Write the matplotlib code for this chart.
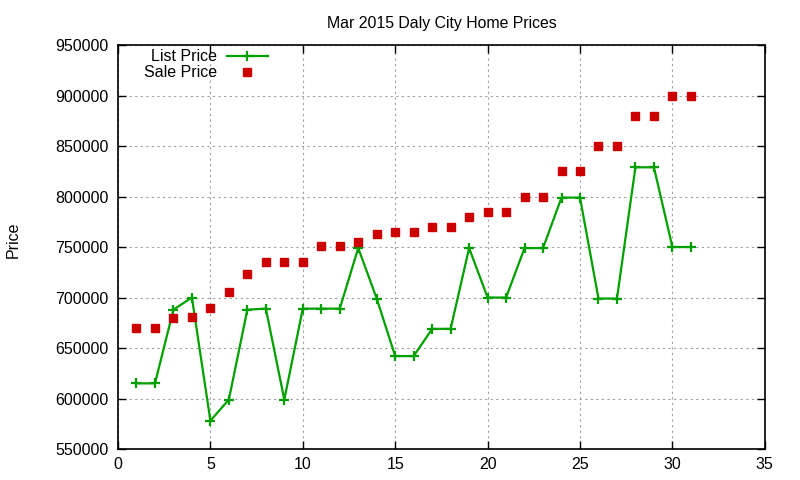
#!/usr/bin/env python3
"""Mar 2015 Daly City home prices: list vs sale price per day."""
import matplotlib
matplotlib.use("Agg")
import matplotlib.pyplot as plt

plt.rcParams["font.family"] = ["Liberation Sans", "DejaVu Sans"]

days = list(range(1, 32))
list_price = [615000, 615000, 688000, 700000, 578000, 599000, 688000, 689000,
              599000, 689000, 689000, 689000, 749000, 699000, 642000, 642000,
              669000, 669000, 749000, 700000, 700000, 749000, 749000, 799000,
              799000, 699000, 699000, 829000, 829000, 750000, 750000]
sale_price = [670000, 670000, 680000, 681000, 690000, 705000, 723000, 735000,
              735000, 735000, 751000, 751000, 755000, 763000, 765000, 765000,
              770000, 770000, 780000, 785000, 785000, 800000, 800000, 825000,
              825000, 850000, 850000, 880000, 880000, 900000, 900000]

fig = plt.figure(figsize=(8, 4.8), dpi=100)
ax = fig.add_axes([0.1475, 0.0646, 0.8085, 0.8414])

ax.plot(days, list_price, color="#00a000", linewidth=1.6, marker="+",
        markersize=7, markeredgewidth=1.6, label="List Price", zorder=3)
ax.plot(days, sale_price, linestyle="none", color="#cc0000", marker="s",
        markersize=6, label="Sale Price", zorder=3)

ax.set_xlim(0, 35)
ax.set_ylim(550000, 950000)
ax.set_xticks(range(0, 36, 5))
ax.set_yticks(range(550000, 950001, 50000))
ax.tick_params(direction="in", top=True, right=True, length=6,
               labelsize=11.5, width=1)
ax.tick_params(axis="x", pad=6)
ax.tick_params(axis="y", pad=7)
ax.grid(True, color="#a0a0a0", linestyle=(0, (2, 3)), linewidth=0.8)
for s in ax.spines.values():
    s.set_linewidth(1.2)

ax.set_title("Mar 2015 Daly City Home Prices", fontsize=11.4, pad=12)
fig.text(0.016, 0.50, "Price", rotation=90, va="center", ha="center",
         fontsize=11.5)

ax.legend(loc="upper left", bbox_to_anchor=(0.018, 1.025), frameon=False,
          markerfirst=False, fontsize=11.5, handlelength=2.6,
          handletextpad=0.6, labelspacing=0.05)

plt.savefig("out.png", dpi=100)
print("Saved out.png")
